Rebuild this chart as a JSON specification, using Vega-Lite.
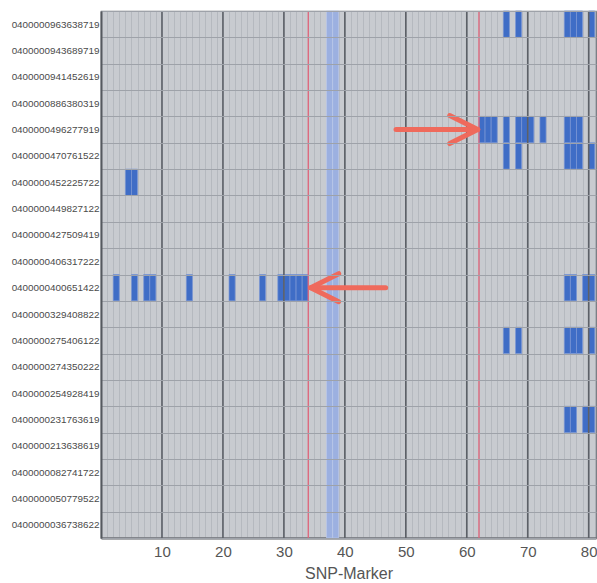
{
  "$schema": "https://vega.github.io/schema/vega-lite/v6.json",
  "autosize": "none",
  "padding": {"left": 101, "top": 11, "right": 1, "bottom": 45},
  "width": 495,
  "height": 527,
  "config": {
    "view": {"fill": "#c8cbd0", "stroke": "#6f737a", "strokeWidth": 1.2},
    "font": "Liberation Sans",
    "axisX": {
      "grid": true,
      "gridColor": "#aeb2b8",
      "gridWidth": 0.7,
      "ticks": false,
      "domain": true,
      "domainColor": "#55595f",
      "domainWidth": 2,
      "labelFontSize": 15,
      "labelColor": "#555555",
      "labelPadding": 6,
      "labelFlush": false,
      "labelOverlap": false,
      "titleFontSize": 16,
      "titleFontWeight": "normal",
      "titleColor": "#555555",
      "titlePadding": 6
    }
  },
  "datasets": {
    "cells": [
      {"id": "0400000963638719", "from": 66, "to": 67},
      {"id": "0400000963638719", "from": 68, "to": 69},
      {"id": "0400000963638719", "from": 76, "to": 77},
      {"id": "0400000963638719", "from": 77, "to": 78},
      {"id": "0400000963638719", "from": 78, "to": 79},
      {"id": "0400000963638719", "from": 80, "to": 81},
      {"id": "0400000496277919", "from": 62, "to": 63},
      {"id": "0400000496277919", "from": 63, "to": 64},
      {"id": "0400000496277919", "from": 64, "to": 65},
      {"id": "0400000496277919", "from": 66, "to": 67},
      {"id": "0400000496277919", "from": 68, "to": 69},
      {"id": "0400000496277919", "from": 69, "to": 70},
      {"id": "0400000496277919", "from": 70, "to": 71},
      {"id": "0400000496277919", "from": 72, "to": 73},
      {"id": "0400000496277919", "from": 76, "to": 77},
      {"id": "0400000496277919", "from": 77, "to": 78},
      {"id": "0400000496277919", "from": 78, "to": 79},
      {"id": "0400000470761522", "from": 66, "to": 67},
      {"id": "0400000470761522", "from": 68, "to": 69},
      {"id": "0400000470761522", "from": 76, "to": 77},
      {"id": "0400000470761522", "from": 77, "to": 78},
      {"id": "0400000470761522", "from": 78, "to": 79},
      {"id": "0400000470761522", "from": 80, "to": 81},
      {"id": "0400000452225722", "from": 4, "to": 5},
      {"id": "0400000452225722", "from": 5, "to": 6},
      {"id": "0400000400651422", "from": 2, "to": 3},
      {"id": "0400000400651422", "from": 5, "to": 6},
      {"id": "0400000400651422", "from": 7, "to": 8},
      {"id": "0400000400651422", "from": 8, "to": 9},
      {"id": "0400000400651422", "from": 14, "to": 15},
      {"id": "0400000400651422", "from": 21, "to": 22},
      {"id": "0400000400651422", "from": 26, "to": 27},
      {"id": "0400000400651422", "from": 29, "to": 30},
      {"id": "0400000400651422", "from": 30, "to": 31},
      {"id": "0400000400651422", "from": 31, "to": 32},
      {"id": "0400000400651422", "from": 32, "to": 33},
      {"id": "0400000400651422", "from": 33, "to": 34},
      {"id": "0400000400651422", "from": 76, "to": 77},
      {"id": "0400000400651422", "from": 77, "to": 78},
      {"id": "0400000400651422", "from": 79, "to": 80},
      {"id": "0400000400651422", "from": 80, "to": 81},
      {"id": "0400000275406122", "from": 66, "to": 67},
      {"id": "0400000275406122", "from": 68, "to": 69},
      {"id": "0400000275406122", "from": 76, "to": 77},
      {"id": "0400000275406122", "from": 77, "to": 78},
      {"id": "0400000275406122", "from": 78, "to": 79},
      {"id": "0400000275406122", "from": 80, "to": 81},
      {"id": "0400000231763619", "from": 76, "to": 77},
      {"id": "0400000231763619", "from": 77, "to": 78},
      {"id": "0400000231763619", "from": 79, "to": 80},
      {"id": "0400000231763619", "from": 80, "to": 81}
    ],
    "column": [
      {"from": 37, "to": 38},
      {"from": 38, "to": 39}
    ],
    "tens": [
      {"from": 10}, {"from": 20}, {"from": 30}, {"from": 40},
      {"from": 50}, {"from": 60}, {"from": 70}, {"from": 80}
    ],
    "redlines": [{"from": 34}, {"from": 62}],
    "arrows": [
      {"id": "0400000496277919", "from": 48.4, "to": 61.8, "dir": "right"},
      {"id": "0400000400651422", "from": 46.7, "to": 34.4, "dir": "left"}
    ]
  },
  "encoding": {
    "x": {
      "field": "from", "type": "quantitative",
      "scale": {"domain": [0, 81.2], "nice": false, "zero": false},
      "axis": {
        "title": "SNP-Marker",
        "values": [0,1,2,3,4,5,6,7,8,9,10,11,12,13,14,15,16,17,18,19,20,21,22,23,24,25,26,27,28,29,30,31,32,33,34,35,36,37,38,39,40,41,42,43,44,45,46,47,48,49,50,51,52,53,54,55,56,57,58,59,60,61,62,63,64,65,66,67,68,69,70,71,72,73,74,75,76,77,78,79,80,81],
        "labelExpr": "datum.value % 10 === 0 && datum.value > 0 ? datum.label : ''"
      }
    }
  },
  "layer": [
    {
      "data": {"name": "column"},
      "mark": {"type": "rect", "fill": "#9cb0e0", "stroke": "#bcc8ea", "strokeWidth": 0.7},
      "encoding": {"x2": {"field": "to"}}
    },
    {
      "data": {"name": "cells"},
      "mark": {"type": "rect", "fill": "#3f6dc6", "stroke": "#7c98d6", "strokeWidth": 0.7},
      "encoding": {
        "x2": {"field": "to"},
        "y": {
          "field": "id", "type": "nominal",
          "scale": {
            "domain": ["0400000963638719","0400000943689719","0400000941452619","0400000886380319","0400000496277919","0400000470761522","0400000452225722","0400000449827122","0400000427509419","0400000406317222","0400000400651422","0400000329408822","0400000275406122","0400000274350222","0400000254928419","0400000231763619","0400000213638619","0400000082741722","0400000050779522","0400000036738622"],
            "paddingInner": 0, "paddingOuter": 0
          },
          "axis": {
            "title": null,
            "grid": true,
            "tickBand": "extent",
            "gridColor": "#9ea2a9",
            "gridWidth": 1,
            "ticks": false,
            "domain": true,
            "domainColor": "#55595f",
            "domainWidth": 2,
            "labelFontSize": 9.9,
            "labelColor": "#4a4a4a",
            "labelPadding": 2
          }
        }
      }
    },
    {
      "data": {"name": "tens"},
      "mark": {"type": "rule", "color": "#5c6067", "strokeWidth": 1.6},
      "encoding": {}
    },
    {
      "data": {"name": "redlines"},
      "mark": {"type": "rule", "color": "#e0647a", "strokeWidth": 1.3},
      "encoding": {}
    },
    {
      "data": {"name": "arrows"},
      "mark": {"type": "rule", "color": "#ef6a5c", "strokeWidth": 5, "strokeCap": "round"},
      "encoding": {
        "x2": {"field": "to"},
        "y": {"field": "id", "type": "nominal"}
      }
    },
    {
      "data": {"name": "arrows"},
      "mark": {"type": "point", "filled": false, "color": "#ef6a5c", "strokeWidth": 5, "strokeCap": "round", "strokeJoin": "round", "size": 3136, "opacity": 1},
      "encoding": {
        "x": {"field": "to", "type": "quantitative"},
        "y": {"field": "id", "type": "nominal"},
        "shape": {
          "field": "dir", "type": "nominal",
          "scale": {"domain": ["right", "left"], "range": ["M-1,-0.5L0,0L-1,0.5", "M1,-0.5L0,0L1,0.5"]},
          "legend": null
        }
      }
    }
  ]
}
